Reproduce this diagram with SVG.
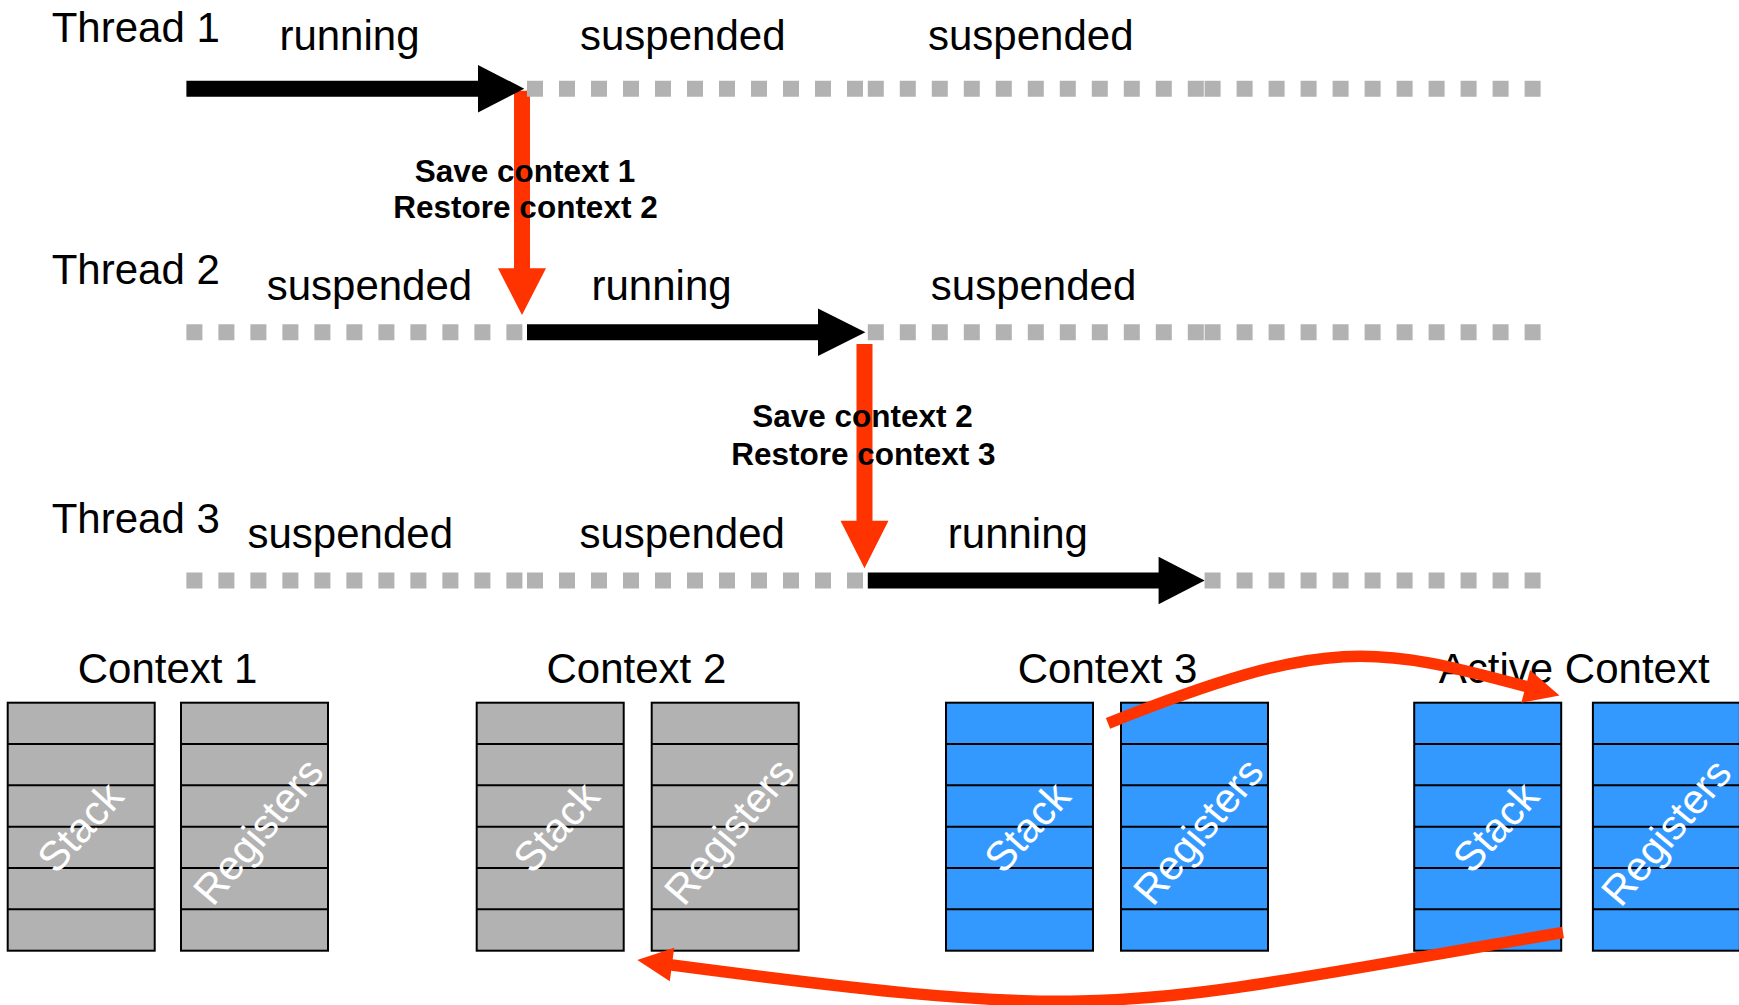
<svg xmlns="http://www.w3.org/2000/svg" xmlns:xlink="http://www.w3.org/1999/xlink" width="1739" height="1005" viewBox="0 0 1739 1005">
<style>
text{font-family:"Liberation Sans",Arial,Helvetica,sans-serif;}
.lbl{font-size:42px;fill:#000;}
.note{font-size:31.5px;font-weight:bold;fill:#000;text-anchor:middle;}
.rot{font-size:41.5px;fill:#fff;text-anchor:middle;}
.susp{stroke:#B2B2B2;stroke-width:16;stroke-dasharray:16 16;fill:none;}
.run{fill:#000;}
.red{fill:#FF3300;}
.redc{stroke:#FF3300;stroke-width:11.5;fill:none;}
.gbox{fill:#B2B2B2;stroke:#000;stroke-width:2;}
.bbox{fill:#3399FF;stroke:#000;stroke-width:2;}
</style>
<defs>
<g id="cell">
<rect x="0" y="0" width="147" height="248"/>
<path d="M0,41.33H147M0,82.67H147M0,124H147M0,165.33H147M0,206.67H147" fill="none"/>
</g>
</defs>
<rect width="1739" height="1005" fill="#fff"/>

<g id="switch-arrows">
<polygon class="red" points="514,90.7 530,90.7 530,268.3 546,268.3 522,315 498,268.3 514,268.3"/>
<polygon class="red" points="856.5,344 872.5,344 872.5,520.7 888.5,520.7 864.5,568.3 840.5,520.7 856.5,520.7"/>
</g>

<g id="thread1">
<text class="lbl" x="51.7" y="41.7">Thread 1</text>
<text class="lbl" x="279.4" y="50">running</text>
<text class="lbl" x="580" y="50">suspended</text>
<text class="lbl" x="928" y="50">suspended</text>
<polygon class="run" points="186.4,80.7 478,80.7 478,65 524.3,88.7 478,112.4 478,96.7 186.4,96.7"/>
<line class="susp" x1="527" y1="88.7" x2="867.8" y2="88.7"/>
<line class="susp" x1="867.8" y1="88.7" x2="1204.6" y2="88.7"/>
<line class="susp" x1="1204.6" y1="88.7" x2="1541" y2="88.7"/>
</g>

<g id="thread2">
<text class="lbl" x="51.7" y="284.3">Thread 2</text>
<text class="lbl" x="266.7" y="300">suspended</text>
<text class="lbl" x="591.5" y="300">running</text>
<text class="lbl" x="930.8" y="300">suspended</text>
<line class="susp" x1="186.4" y1="332.3" x2="527" y2="332.3"/>
<polygon class="run" points="527,324.3 818,324.3 818,308.6 865.4,332.3 818,356 818,340.3 527,340.3"/>
<line class="susp" x1="867.8" y1="332.3" x2="1204.6" y2="332.3"/>
<line class="susp" x1="1204.6" y1="332.3" x2="1541" y2="332.3"/>
</g>

<g id="thread3">
<text class="lbl" x="51.7" y="533">Thread 3</text>
<text class="lbl" x="247.5" y="548.3">suspended</text>
<text class="lbl" x="579.4" y="548.3">suspended</text>
<text class="lbl" x="947.8" y="548.3">running</text>
<line class="susp" x1="186.4" y1="580.5" x2="527" y2="580.5"/>
<line class="susp" x1="527" y1="580.5" x2="867.8" y2="580.5"/>
<polygon class="run" points="867.8,572.5 1158.6,572.5 1158.6,556.8 1204.7,580.5 1158.6,604.2 1158.6,588.5 867.8,588.5"/>
<line class="susp" x1="1204.6" y1="580.5" x2="1541" y2="580.5"/>
</g>

<g id="switch-labels">
<text class="note" x="525" y="181.7">Save context 1</text>
<text class="note" x="525.5" y="218.3">Restore context 2</text>
<text class="note" x="862.5" y="426.7">Save context 2</text>
<text class="note" x="863.4" y="465">Restore context 3</text>
</g>

<g id="context1">
<text class="lbl" x="77.7" y="682.5">Context 1</text>
<use xlink:href="#cell" x="7.7" y="702.7" class="gbox"/>
<use xlink:href="#cell" x="181" y="702.7" class="gbox"/>
<text class="rot" transform="translate(80,827) rotate(-48)" dy="0.35em">Stack</text>
<text class="rot" transform="translate(258,831) rotate(-50)" dy="0.35em">Registers</text>
</g>

<g id="context2">
<text class="lbl" x="546.5" y="682.5">Context 2</text>
<use xlink:href="#cell" x="476.7" y="702.7" class="gbox"/>
<use xlink:href="#cell" x="651.7" y="702.7" class="gbox"/>
<text class="rot" transform="translate(556,827) rotate(-48)" dy="0.35em">Stack</text>
<text class="rot" transform="translate(729,831) rotate(-50)" dy="0.35em">Registers</text>
</g>

<g id="context3">
<text class="lbl" x="1017.7" y="682.5">Context 3</text>
<use xlink:href="#cell" x="946" y="702.7" class="bbox"/>
<use xlink:href="#cell" x="1121" y="702.7" class="bbox"/>
<text class="rot" transform="translate(1027,827) rotate(-48)" dy="0.35em">Stack</text>
<text class="rot" transform="translate(1198,831) rotate(-50)" dy="0.35em">Registers</text>
</g>

<g id="active-context">
<text class="lbl" x="1438.8" y="682.5">Active Context</text>
<use xlink:href="#cell" x="1414.2" y="702.7" class="bbox"/>
<use xlink:href="#cell" x="1592.9" y="702.7" class="bbox"/>
<text class="rot" transform="translate(1495.5,827) rotate(-48)" dy="0.35em">Stack</text>
<text class="rot" transform="translate(1666,832) rotate(-50)" dy="0.35em">Registers</text>
</g>

<g id="connectors">
<path class="redc" d="M1108,723.3 C1328,635.3 1375.7,645.8 1527,686.7"/>
<polygon class="red" points="1559.5,695.4 1521.3,702.7 1530.1,669.9"/>
<path class="redc" d="M1563,932.5 C1113,1009 1122,1024.4 670,964.8"/>
<polygon class="red" points="637.3,959.9 674.2,947.7 669.8,981.3"/>
</g>
</svg>
